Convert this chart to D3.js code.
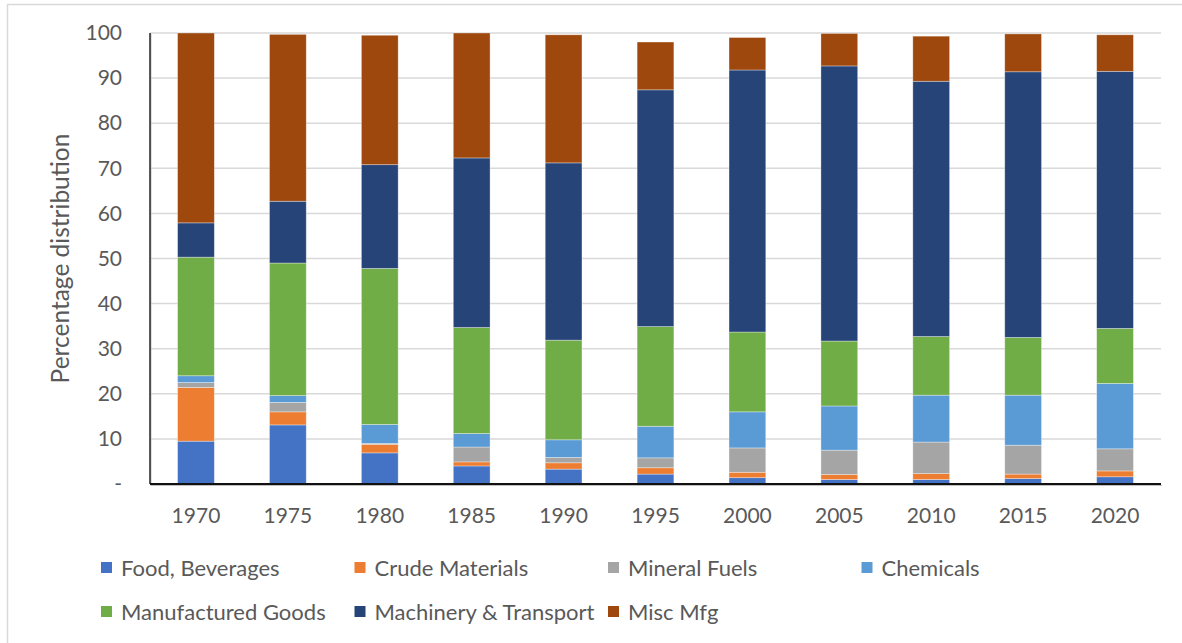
<!DOCTYPE html>
<html>
<head>
<meta charset="utf-8">
<script src="https://cdn.jsdelivr.net/npm/d3@7"></script>
<style>
  html, body { margin: 0; padding: 0; background: #fff; }
  svg { display: block; }
  text { font-family: Lato, "Open Sans", sans-serif; fill: #595959; }
</style>
</head>
<body>
<svg id="chart" width="1182" height="643"></svg>
<script>
// Years on the category axis
const years = ["1970","1975","1980","1985","1990","1995","2000","2005","2010","2015","2020"];

// Product groups, bottom to top of each stack
const groups = ["Food, Beverages","Crude Materials","Mineral Fuels","Chemicals",
                "Manufactured Goods","Machinery & Transport","Misc Mfg"];
const groupColors = ["#4472C4","#ED7D31","#A5A5A5","#5B9BD5","#70AD47","#264478","#9E480E"];

// Percentage share of each group, one value per year
const foodBeverages      = [9.5, 13.1, 6.9, 4.0, 3.3, 2.2, 1.4, 1.0, 1.0, 1.2, 1.6];
const crudeMaterials     = [11.9, 2.9, 1.9, 0.9, 1.4, 1.4, 1.2, 1.1, 1.3, 1.0, 1.3];
const mineralFuels       = [1.1, 2.1, 0.2, 3.3, 1.2, 2.2, 5.4, 5.4, 7.0, 6.4, 4.9];
const chemicals          = [1.5, 1.5, 4.2, 3.0, 3.9, 7.0, 8.0, 9.8, 10.4, 11.1, 14.5];
const manufacturedGoods  = [26.3, 29.4, 34.6, 23.5, 22.1, 22.1, 17.7, 14.4, 13.0, 12.8, 12.2];
const machineryTransport = [7.6, 13.7, 23.0, 37.6, 39.3, 52.5, 58.1, 61.0, 56.6, 58.9, 57.0];
const miscMfg            = [42.1, 37.0, 28.7, 27.7, 28.4, 10.6, 7.2, 7.2, 10.0, 8.4, 8.1];

// Value axis ticks; zero is shown as a dash
const yTicks = [0,10,20,30,40,50,60,70,80,90,100];
const yTickLabels = ["-","10","20","30","40","50","60","70","80","90","100"];

const seriesValues = [foodBeverages, crudeMaterials, mineralFuels, chemicals,
                      manufacturedGoods, machineryTransport, miscMfg];

const rows = years.map((y, i) => {
  const r = { year: y };
  groups.forEach((g, k) => { r[g] = seriesValues[k][i]; });
  return r;
});

const svg = d3.select("#chart");
const W = 1182, H = 643;
const plot = { left: 150, right: 1161, top: 33, bottom: 484 };

// Outer chart frame (left and top edges)
svg.append("path")
  .attr("d", `M7.5,${H} V4.5 H${W}`)
  .attr("fill", "none")
  .attr("stroke", "#d9d9d9")
  .attr("stroke-width", 1.5);

const x = d3.scaleBand().domain(years).range([plot.left, plot.right]).paddingInner(0.6).paddingOuter(0.3);
const y = d3.scaleLinear().domain([0, 100]).range([plot.bottom, plot.top]);

// Horizontal gridlines
svg.append("g")
  .selectAll("line")
  .data(yTicks.filter(t => t > 0))
  .join("line")
  .attr("x1", plot.left).attr("x2", plot.right)
  .attr("y1", d => y(d)).attr("y2", d => y(d))
  .attr("stroke", "#d9d9d9")
  .attr("stroke-width", 1.5);

// Stacked bars
const stacked = d3.stack().keys(groups)(rows);
svg.append("g")
  .selectAll("g")
  .data(stacked)
  .join("g")
  .attr("fill", (d, i) => groupColors[i])
  .selectAll("rect")
  .data(d => d)
  .join("rect")
  .attr("x", d => x(d.data.year))
  .attr("width", x.bandwidth())
  .attr("y", d => y(d[1]))
  .attr("height", d => y(d[0]) - y(d[1]))
  .attr("stroke", "rgba(255,255,255,0.45)")
  .attr("stroke-width", 0.75);

// Axis lines
svg.append("line")
  .attr("x1", plot.left + 1).attr("x2", plot.left + 1)
  .attr("y1", plot.top + 1).attr("y2", plot.bottom + 2)
  .attr("stroke", "#bfbfbf").attr("stroke-width", 1);
svg.append("line")
  .attr("x1", plot.left).attr("x2", plot.left)
  .attr("y1", plot.top).attr("y2", plot.bottom)
  .attr("stroke", "#222").attr("stroke-width", 1.5);
svg.append("line")
  .attr("x1", plot.left + 1).attr("x2", plot.right + 1)
  .attr("y1", plot.bottom + 1.5).attr("y2", plot.bottom + 1.5)
  .attr("stroke", "#bfbfbf").attr("stroke-width", 1);
svg.append("line")
  .attr("x1", plot.left).attr("x2", plot.right)
  .attr("y1", plot.bottom).attr("y2", plot.bottom)
  .attr("stroke", "#111").attr("stroke-width", 2);

// Y tick labels
const yAxis = d3.axisLeft(y).tickValues(yTicks).tickFormat((d, i) => yTickLabels[i]).tickSize(0).tickPadding(28);
const gy = svg.append("g").attr("transform", `translate(${plot.left},0)`).call(yAxis);
gy.select(".domain").remove();
gy.selectAll("text").style("font-size", "21px").attr("fill", "#595959")
  .style("font-family", "Lato, sans-serif");

// X tick labels
const xAxis = d3.axisBottom(x).tickSize(0).tickPadding(24);
const gx = svg.append("g").attr("transform", `translate(0,${plot.bottom})`).call(xAxis);
gx.select(".domain").remove();
gx.selectAll("text").style("font-size", "21px").attr("fill", "#595959")
  .style("font-family", "Lato, sans-serif");

// Y axis title
svg.append("text")
  .attr("transform", `translate(69,${(plot.top + plot.bottom) / 2}) rotate(-90)`)
  .attr("text-anchor", "middle")
  .style("font-size", "24.5px")
  .text("Percentage distribution");

// Legend, four columns by two rows
const legend = svg.append("g");
const legItems = legend.selectAll("g")
  .data(groups)
  .join("g")
  .attr("transform", (d, i) => `translate(${101 + (i % 4) * 253.5},${568 + Math.floor(i / 4) * 44})`);
legItems.append("rect")
  .attr("x", 0).attr("y", -6).attr("width", 11).attr("height", 11)
  .attr("fill", (d, i) => groupColors[i]);
legItems.append("text")
  .attr("x", 20).attr("y", 0)
  .attr("dy", "0.35em")
  .style("font-size", "22px")
  .text(d => d);
</script>
</body>
</html>
